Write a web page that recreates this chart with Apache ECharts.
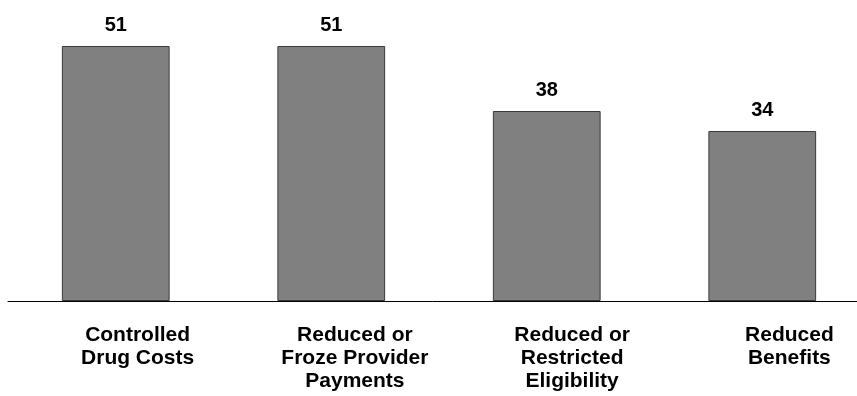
<!DOCTYPE html>
<html>
<head>
<meta charset="utf-8">
<style>
  html, body { margin: 0; padding: 0; background: #ffffff; }
  #chart { width: 857px; height: 396px; }
</style>
<script src="https://cdn.jsdelivr.net/npm/echarts@6/dist/echarts.min.js"></script>
</head>
<body>
<div id="chart"></div>
<script>
// Actions taken, with the share of respondents for each
const categories = [
  'Controlled\nDrug Costs',
  'Reduced or\nFroze Provider\nPayments',
  'Reduced or\nRestricted\nEligibility',
  'Reduced\nBenefits'
];
const values = [51, 51, 38, 34];

const FONT = '"Liberation Sans", Arial, Helvetica, sans-serif';

const chart = echarts.init(document.getElementById('chart'), null, { renderer: 'canvas' });

chart.setOption({
  animation: false,
  backgroundColor: '#ffffff',
  grid: [
    // bars and baseline (runs off the right edge)
    { left: 8, width: 862, top: 1, bottom: 95, outerBoundsMode: 'none', containLabel: false },
    // category labels, set slightly right of the bars
    { left: 29, width: 869, top: 1, bottom: 95, outerBoundsMode: 'none', containLabel: false }
  ],
  xAxis: [
    {
      type: 'category',
      gridIndex: 0,
      data: categories,
      axisLine: { show: true, lineStyle: { color: '#000000', width: 1 } },
      axisTick: { show: false },
      axisLabel: { show: false },
      splitLine: { show: false }
    },
    {
      type: 'category',
      gridIndex: 1,
      data: categories,
      axisLine: { show: false },
      axisTick: { show: false },
      splitLine: { show: false },
      axisLabel: {
        show: true,
        interval: 0,
        margin: 23,
        color: '#000000',
        fontFamily: FONT,
        fontWeight: 'bold',
        fontSize: 21,
        lineHeight: 23,
        align: 'center'
      }
    }
  ],
  yAxis: [
    { type: 'value', gridIndex: 0, min: 0, max: 60, show: false },
    { type: 'value', gridIndex: 1, min: 0, max: 60, show: false }
  ],
  series: [
    {
      type: 'bar',
      xAxisIndex: 0,
      yAxisIndex: 0,
      data: values,
      barWidth: '50%',
      itemStyle: {
        color: '#808080',
        borderColor: '#3a3a3a',
        borderWidth: 1
      },
      label: {
        show: true,
        position: 'top',
        distance: 11,
        color: '#000000',
        fontFamily: FONT,
        fontWeight: 'bold',
        fontSize: 20
      }
    }
  ]
});
</script>
</body>
</html>
